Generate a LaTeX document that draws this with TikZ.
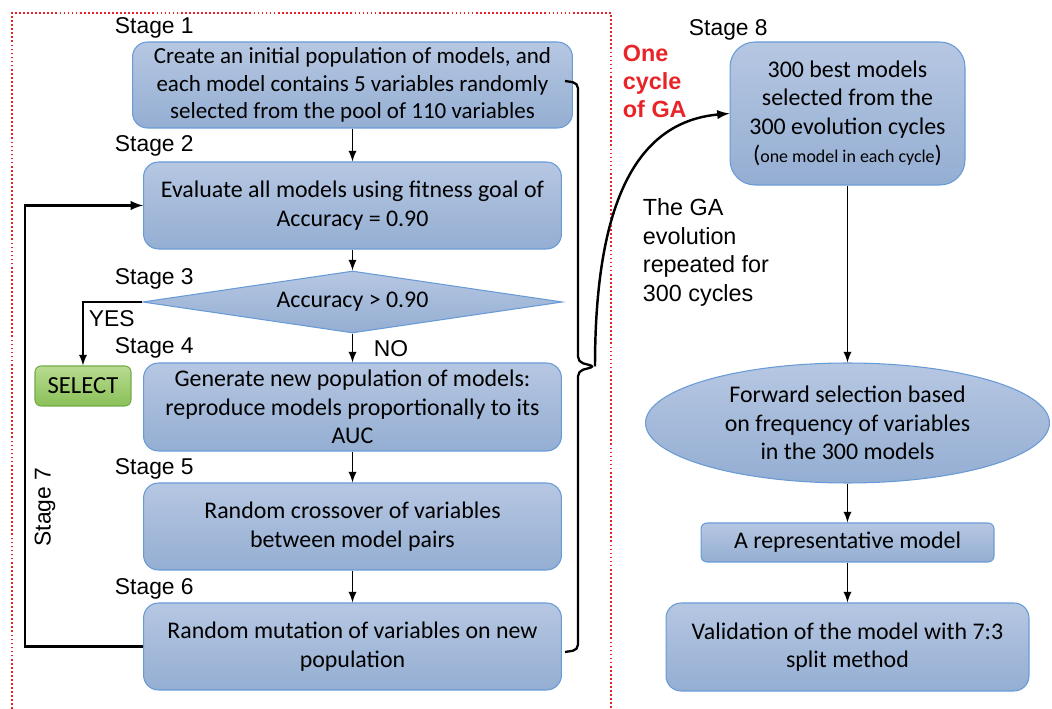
\documentclass[tikz,border=0pt]{standalone}
\usepackage{fontspec}
\setmainfont{Carlito}
\newfontfamily\arialfont{Liberation Sans}
\usetikzlibrary{shapes.geometric}
\definecolor{boxtop}{RGB}{182,199,226}
\definecolor{boxbot}{RGB}{148,174,210}
\definecolor{boxedge}{RGB}{104,155,214}
\definecolor{seltop}{RGB}{184,219,145}
\definecolor{selbot}{RGB}{138,192,88}
\definecolor{seledge}{RGB}{112,173,71}
\definecolor{gared}{RGB}{232,36,40}
\begin{document}
\begin{tikzpicture}[x=0.02cm, y=-0.02cm, >=latex, line width=1.1pt,
          bx/.style={draw=boxedge, line width=0.6pt, top color=boxtop, bottom color=boxbot,
                     rounded corners=0.3cm, align=center, inner sep=1pt,
                     font=\fontsize{13.6}{16.2}\selectfont},
          dm/.style={bx, diamond, rounded corners=0pt, aspect=6.8, inner sep=0pt,
                     minimum width=8.4cm, minimum height=1.24cm},
          sel/.style={draw=seledge, line width=0.6pt, top color=seltop, bottom color=selbot,
                      rounded corners=0.12cm, minimum width=1.92cm, minimum height=0.8cm,
                      font=\fontsize{14}{16}\selectfont},
          sg/.style={anchor=south west, inner sep=0pt, font=\arialfont\fontsize{13}{15}\selectfont},
          nt/.style={anchor=north west, inner sep=0pt, align=left}]
        \useasboundingbox (0,0) rectangle (1052,709);
        % one cycle of GA
        \draw[gared, line width=0.9pt, dash pattern=on 1pt off 1.3pt] (12,709) |- (611,13) -- (611,709);
        \node[bx, minimum width=8.8cm, minimum height=1.72cm, font=\fontsize{13.1}{15.8}\selectfont] (b1) at (352.5,85)
          {Create an initial population of models, and\\each model contains 5 variables randomly\\selected from the pool of 110 variables};
        \node[bx, minimum width=8.36cm, minimum height=1.74cm] (b2) at (352.5,205.5)
          {Evaluate all models using fitness goal of\\Accuracy = 0.90};
        \node[dm] (dm) at (352.5,302) {Accuracy > 0.90};
        \node[sel] (sel) at (83,386) {SELECT};
        \node[bx, minimum width=8.36cm, minimum height=1.76cm] (b4) at (352.5,407)
          {Generate new population of models:\\reproduce models proportionally to its\\AUC};
        \node[bx, minimum width=8.36cm, minimum height=1.74cm] (b5) at (352.5,526.5)
          {Random crossover of variables\\between model pairs};
        \node[bx, minimum width=8.36cm, minimum height=1.74cm] (b6) at (352.5,646.5)
          {Random mutation of variables on new\\population};
        \node[sg] (s1) at (114,39) {Stage 1};
        \node[sg] (s2) at (114,157) {Stage 2};
        \node[sg] (s3) at (114,290) {Stage 3};
        \node[sg] (s4) at (114,359) {Stage 4};
        \node[sg] (s5) at (114,480) {Stage 5};
        \node[sg] (s6) at (114,600) {Stage 6};
        \node[sg, anchor=center, rotate=90] (s7) at (45,507) {Stage 7};
        \node[sg, anchor=west] (yes) at (88,319) {YES};
        \node[sg, anchor=west] (no) at (373,349) {NO};
        \draw[->] (b1) -- (b2);
        \draw[->] (b2) -- (dm);
        \draw[->] (dm) -- (b4);
        \draw[->] (b4) -- (b5);
        \draw[->] (b5) -- (b6);
        \draw[->] (dm.west) -| (sel.north);
        \draw[->, line width=1.4pt] (b6.west) -- ++(-118,0) |- (b2.west);
        % brace and repeat
        \coordinate (bt) at (565,81);
        \coordinate (bb) at (565,652);
        \coordinate (tip) at (595,366.5);
        \draw[line width=1.3pt, rounded corners=3pt] (bt) -- ++(13,2) -- (578,362) -- (tip)
          -- (578,371) -- (578,650) -- (bb);
        \node[nt, text=gared, font=\arialfont\bfseries\fontsize{13.3}{15.9}\selectfont] (cyc) at (622,44)
          {One\\cycle\\of GA};
        \node[nt, font=\arialfont\fontsize{13.3}{16.2}\selectfont] (rep) at (642,198)
          {The GA\\evolution\\repeated for\\300 cycles};
        % after the cycles
        \node[sg] (s8) at (688,41) {Stage 8};
        \node[bx, rounded corners=0.5cm, minimum width=4.7cm, minimum height=2.86cm] (b8) at (847.5,113.5)
          {300 best models\\selected from the\\300 evolution cycles\\({\fontsize{10.2}{12}\selectfont one model in each cycle})};
        \node[bx, ellipse, minimum width=8.08cm, minimum height=2.4cm] (el) at (847.5,423)
          {Forward selection based\\on frequency of variables\\in the 300 models};
        \node[bx, rounded corners=0.12cm, minimum width=5.86cm, minimum height=0.78cm] (rm) at (847.5,542.5)
          {A representative model};
        \node[bx, minimum width=7.26cm, minimum height=1.76cm] (val) at (847.5,647)
          {Validation of the model with 7:3\\split method};
        \draw[->, line width=1.4pt] (tip) .. controls +(0,-170) and +(-90,8) .. (b8.west);
        \draw[->] (b8) -- (el);
        \draw[->] (el) -- (rm);
        \draw[->] (rm) -- (val);
\end{tikzpicture}
\end{document}
